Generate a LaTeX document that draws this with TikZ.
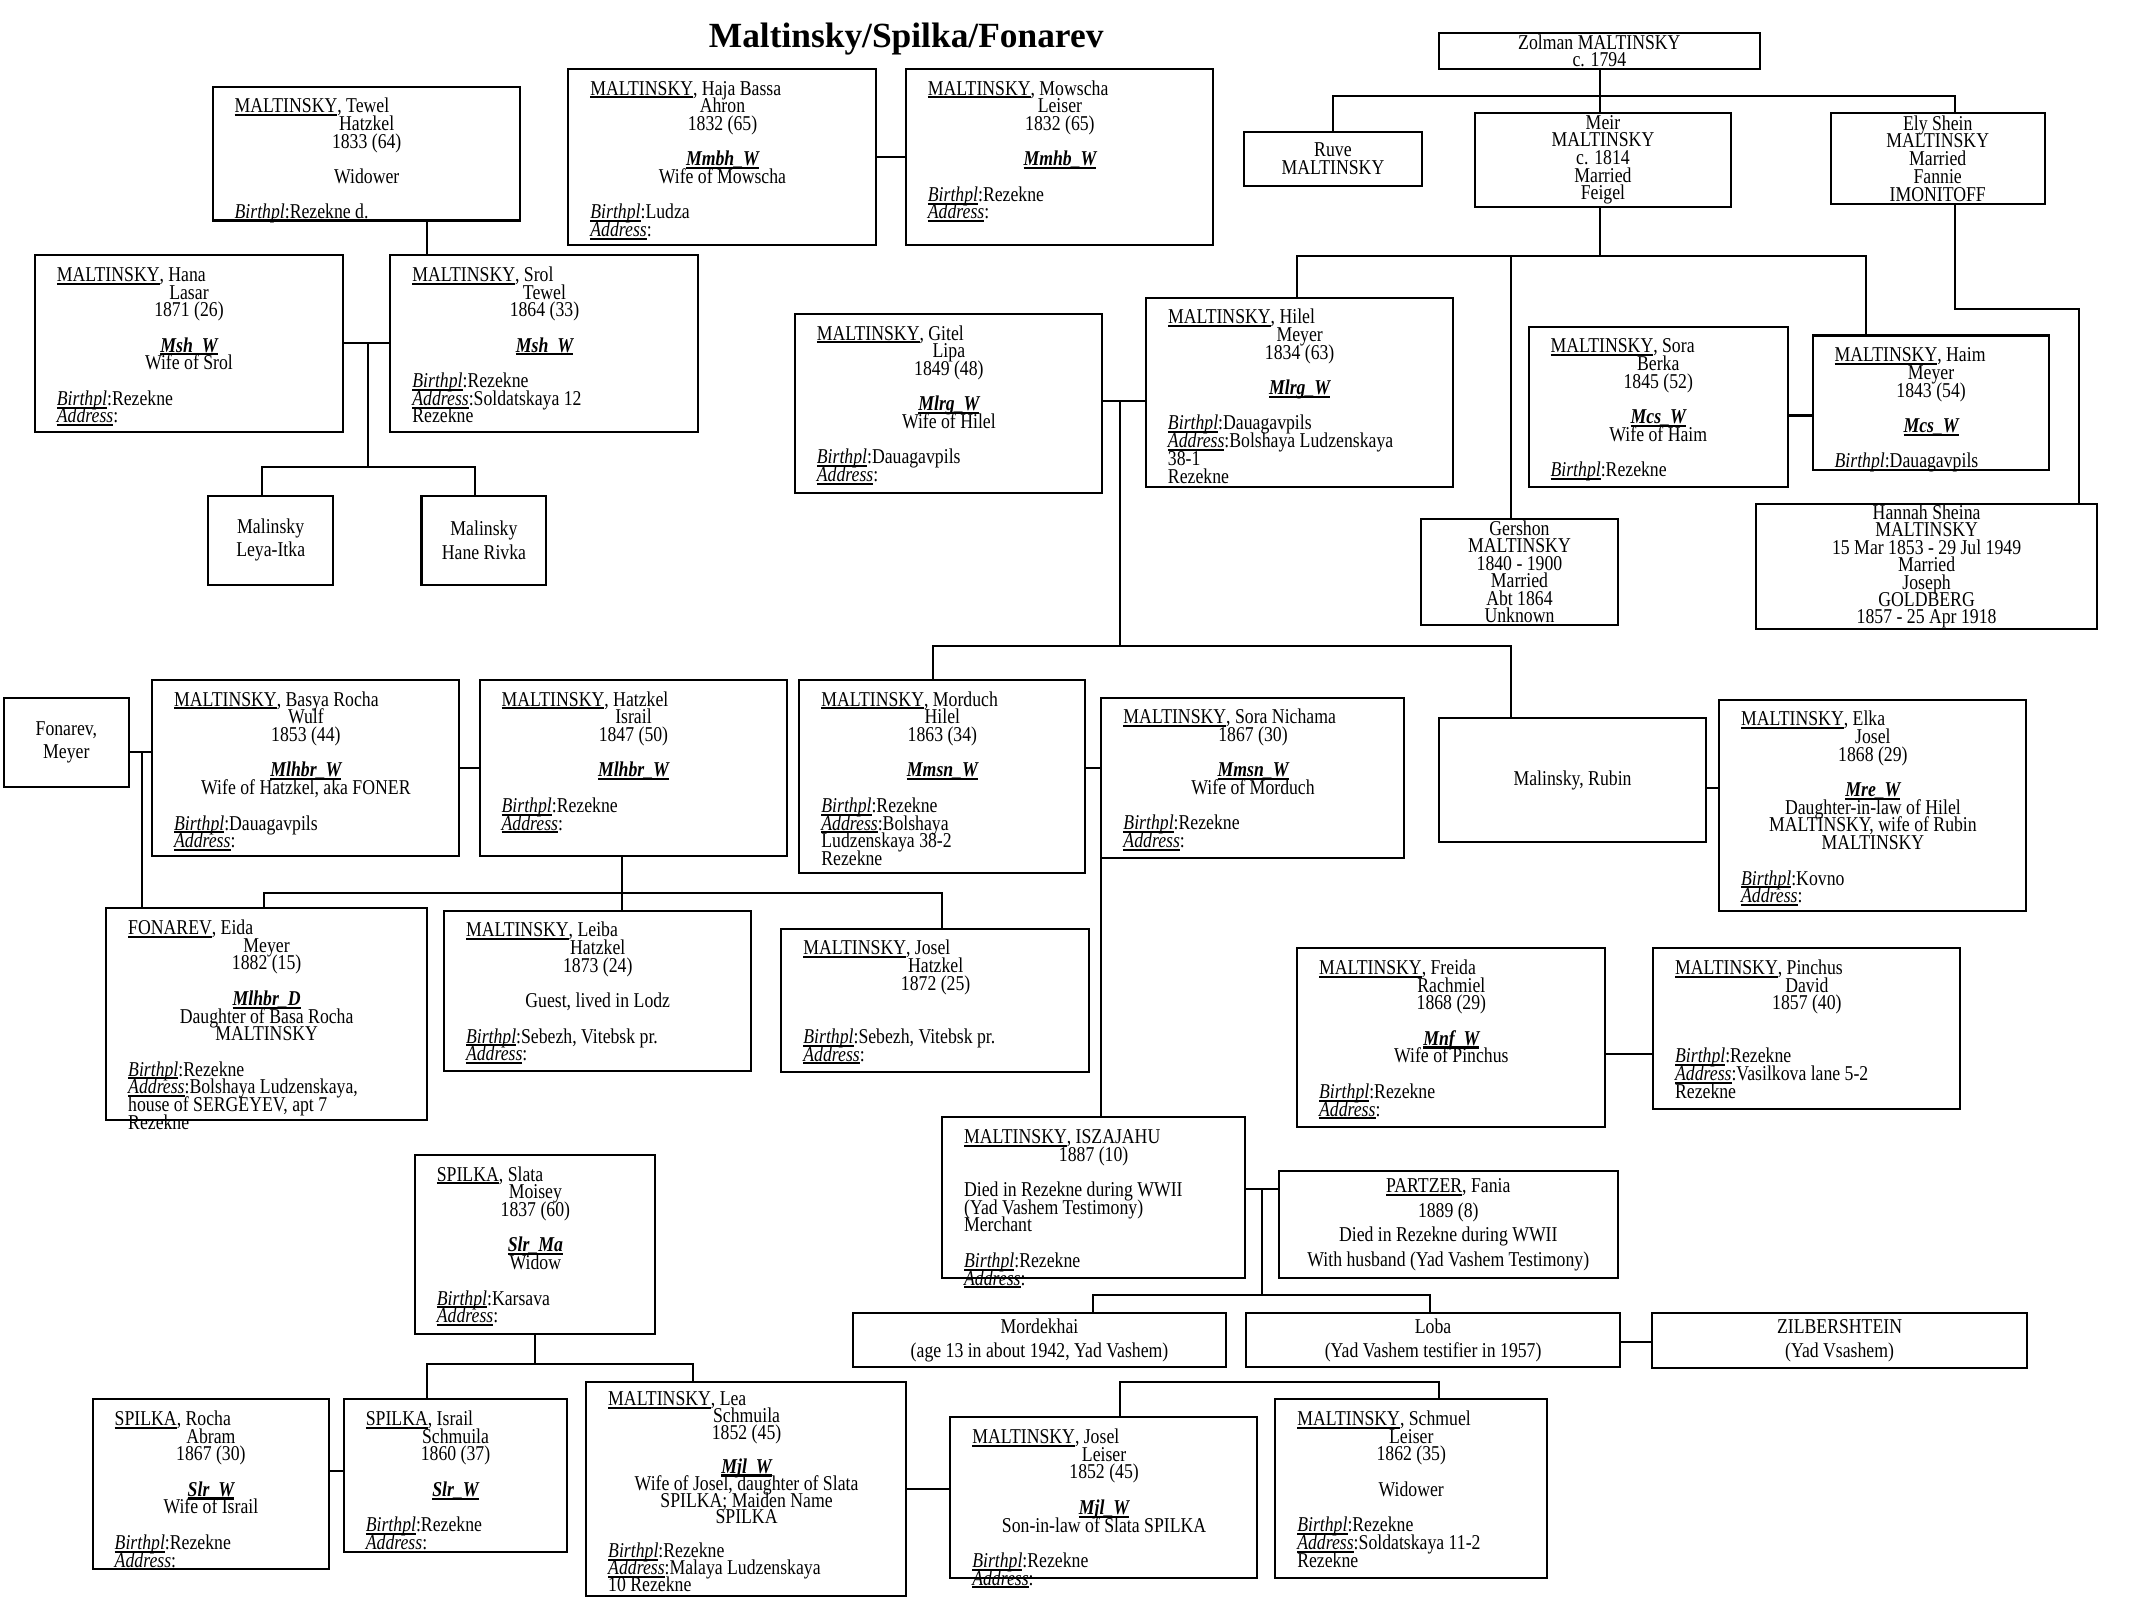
\documentclass[tikz,border=0pt]{standalone}
\usepackage{fontspec}
\setmainfont{Liberation Serif}[FakeStretch=0.84]
\newfontfamily\titlefamily{Liberation Serif}
\newcommand\bodyfont{\fontsize{15.5}{13}\selectfont\lineskiplimit=-100pt\lineskip=0pt}
\newcommand\ulx[1]{\leavevmode\setbox0=\hbox{#1}\rlap{\vrule width\wd0 height -0.9pt depth 2.4pt}\box0}
\newcommand\sur[1]{\ulx{#1}}
\newcommand\cod[1]{\ulx{\bfseries\itshape #1}}
\newcommand\bpl{\ulx{\itshape Birthpl}:}
\newcommand\adr{\ulx{\itshape Address}:}
\newcommand\LnF[1]{\hbox to\hsize{\vrule height 12.5pt depth 0pt width 0pt #1\hss}}
\newcommand\LnL[1]{\hbox to\hsize{#1\hss}}
\newcommand\LnC[1]{\hbox to\hsize{\hss #1\hss}}
\newcommand\LnB{\hbox{}}
\newcommand\LnT{\kern0pt}
\tikzset{
  box/.style={draw, line width=1.5pt, anchor=north west, outer sep=0pt, inner sep=0pt},
  conn/.style={draw, line width=1.5pt},
}
\newcommand\pbox[6]{%
  \pgfmathsetmacro\bw{#4-#2}\pgfmathsetmacro\bh{#5-#3}%
  \node[box, minimum width=\bw pt, minimum height=\bh pt] (#1) at (#2,#3) {};
  \node[anchor=north west, inner sep=0pt, font=\bodyfont] (#1t) at (#2+16,#3+6.5)
    {\vbox{\hsize=\dimexpr\bw pt-32pt\relax #6}};}
\newcommand\cbox[7]{%
  \pgfmathsetmacro\bw{#4-#2}\pgfmathsetmacro\bh{#5-#3}%
  \node[box, minimum width=\bw pt, minimum height=\bh pt] (#1) at (#2,#3) {};
  \node[align=center, inner sep=0pt, font={\fontsize{15.5}{#6}\selectfont\lineskiplimit=-100pt\lineskip=0pt}] (#1t) at (#1.center) {#7};}
\begin{document}
\lineskiplimit=-100pt\lineskip=0pt
\begin{tikzpicture}[x=1pt,y=-1pt]
\fill[white] (0,0) rectangle (1568,1173);
\useasboundingbox (0,0) rectangle (1568,1173);

\node[font={\titlefamily\bfseries\fontsize{26}{26}\selectfont}, anchor=base, inner sep=0pt] (title) at (665.8,34.8) {Maltinsky/Spilka/Fonarev};

% ---------------- person boxes ----------------
\pbox{tewel}{156.2}{63.6}{382.3}{162}{%
\LnF{\sur{MALTINSKY}, Tewel}
\LnC{Hatzkel}
\LnC{1833 (64)}
\LnB
\LnC{Widower}
\LnB
\LnL{\bpl Rezekne d.}}

\pbox{haja}{417.6}{50.7}{643.7}{180}{%
\LnF{\sur{MALTINSKY}, Haja Bassa}
\LnC{Ahron}
\LnC{1832 (65)}
\LnB
\LnC{\cod{Mmbh\_W}}\LnT
\LnC{Wife of Mowscha}
\LnB
\LnL{\bpl Ludza}
\LnL{\adr}}

\pbox{mowscha}{665.6}{50.7}{891.6}{180}{%
\LnF{\sur{MALTINSKY}, Mowscha}
\LnC{Leiser}
\LnC{1832 (65)}
\LnB
\LnC{\cod{Mmhb\_W}}
\LnB
\LnL{\bpl Rezekne}
\LnL{\adr}}

\pbox{hana}{25.6}{187.6}{251.7}{317.2}{%
\LnF{\sur{MALTINSKY}, Hana}
\LnC{Lasar}
\LnC{1871 (26)}
\LnB
\LnC{\cod{Msh\_W}}\LnT
\LnC{Wife of Srol}
\LnB
\LnL{\bpl Rezekne}
\LnL{\adr}}

\pbox{srol}{286.8}{187.6}{512.9}{317.2}{%
\LnF{\sur{MALTINSKY}, Srol}
\LnC{Tewel}
\LnC{1864 (33)}
\LnB
\LnC{\cod{Msh\_W}}
\LnB
\LnL{\bpl Rezekne}
\LnL{\adr Soldatskaya 12}
\LnL{Rezekne}}

\pbox{gitel}{584}{230.7}{810}{362}{%
\LnF{\sur{MALTINSKY}, Gitel}
\LnC{Lipa}
\LnC{1849 (48)}
\LnB
\LnC{\cod{Mlrg\_W}}\LnT
\LnC{Wife of Hilel}
\LnB
\LnL{\bpl Dauagavpils}
\LnL{\adr}}

\pbox{hilel}{842}{218.7}{1067.5}{357.8}{%
\LnF{\sur{MALTINSKY}, Hilel}
\LnC{Meyer}
\LnC{1834 (63)}
\LnB
\LnC{\cod{Mlrg\_W}}
\LnB
\LnL{\bpl Dauagavpils}
\LnL{\adr Bolshaya Ludzenskaya}
\LnL{38-1}
\LnL{Rezekne}}

\pbox{sorab}{1123.1}{240}{1313.4}{357.8}{%
\LnF{\sur{MALTINSKY}, Sora}
\LnC{Berka}
\LnC{1845 (52)}
\LnB
\LnC{\cod{Mcs\_W}}\LnT
\LnC{Wife of Haim}
\LnB
\LnL{\bpl Rezekne}}

\pbox{haim}{1331.8}{246.5}{1505.6}{345}{%
\LnF{\sur{MALTINSKY}, Haim}
\LnC{Meyer}
\LnC{1843 (54)}
\LnB
\LnC{\cod{Mcs\_W}}
\LnB
\LnL{\bpl Dauagavpils}}

\pbox{basya}{111.7}{499.7}{337.4}{629}{%
\LnF{\sur{MALTINSKY}, Basya Rocha}
\LnC{Wulf}
\LnC{1853 (44)}
\LnB
\LnC{\cod{Mlhbr\_W}}\LnT
\LnC{Wife of Hatzkel, aka FONER}
\LnB
\LnL{\bpl Dauagavpils}
\LnL{\adr}}

\pbox{hatzkel}{352.4}{499.7}{578.1}{629}{%
\LnF{\sur{MALTINSKY}, Hatzkel}
\LnC{Israil}
\LnC{1847 (50)}
\LnB
\LnC{\cod{Mlhbr\_W}}
\LnB
\LnL{\bpl Rezekne}
\LnL{\adr}}

\pbox{morduch}{587.3}{499.7}{797.2}{641.7}{%
\LnF{\sur{MALTINSKY}, Morduch}
\LnC{Hilel}
\LnC{1863 (34)}
\LnB
\LnC{\cod{Mmsn\_W}}
\LnB
\LnL{\bpl Rezekne}
\LnL{\adr Bolshaya}
\LnL{Ludzenskaya 38-2}
\LnL{Rezekne}}

\pbox{soran}{809.3}{512.6}{1031.7}{630.2}{%
\LnF{\sur{MALTINSKY}, Sora Nichama}
\LnC{1867 (30)}
\LnB
\LnC{\cod{Mmsn\_W}}\LnT
\LnC{Wife of Morduch}
\LnB
\LnL{\bpl Rezekne}
\LnL{\adr}}

\pbox{elka}{1263.1}{514.1}{1488.8}{669.6}{%
\LnF{\sur{MALTINSKY}, Elka}
\LnC{Josel}
\LnC{1868 (29)}
\LnB
\LnC{\cod{Mre\_W}}\LnT
\LnC{Daughter-in-law of Hilel}
\LnC{MALTINSKY, wife of Rubin}
\LnC{MALTINSKY}
\LnB
\LnL{\bpl Kovno}
\LnL{\adr}}

\pbox{eida}{78}{667.5}{313.4}{823.2}{%
\LnF{\sur{FONAREV}, Eida}
\LnC{Meyer}
\LnC{1882 (15)}
\LnB
\LnC{\cod{Mlhbr\_D}}\LnT
\LnC{Daughter of Basa Rocha}
\LnC{MALTINSKY}
\LnB
\LnL{\bpl Rezekne}
\LnL{\adr Bolshaya Ludzenskaya,}
\LnL{house of SERGEYEV, apt 7}
\LnL{Rezekne}}

\pbox{leiba}{326.2}{669.2}{551.8}{787.2}{%
\LnF{\sur{MALTINSKY}, Leiba}
\LnC{Hatzkel}
\LnC{1873 (24)}
\LnB
\LnC{Guest, lived in Lodz}
\LnB
\LnL{\bpl Sebezh, Vitebsk pr.}
\LnL{\adr}}

\pbox{joselh}{574.1}{682.4}{800.5}{787.8}{%
\LnF{\sur{MALTINSKY}, Josel}
\LnC{Hatzkel}
\LnC{1872 (25)}
\LnB
\LnB
\LnL{\bpl Sebezh, Vitebsk pr.}
\LnL{\adr}}

\pbox{freida}{953}{696.8}{1179.4}{828.1}{%
\LnF{\sur{MALTINSKY}, Freida}
\LnC{Rachmiel}
\LnC{1868 (29)}
\LnB
\LnC{\cod{Mnf\_W}}\LnT
\LnC{Wife of Pinchus}
\LnB
\LnL{\bpl Rezekne}
\LnL{\adr}}

\pbox{pinchus}{1214.6}{696.8}{1440.3}{814.9}{%
\LnF{\sur{MALTINSKY}, Pinchus}
\LnC{David}
\LnC{1857 (40)}
\LnB
\LnB
\LnL{\bpl Rezekne}
\LnL{\adr Vasilkova lane 5-2}
\LnL{Rezekne}}

\pbox{isza}{692.2}{821}{914.5}{939.3}{%
\LnF{\sur{MALTINSKY}, ISZAJAHU}
\LnC{1887 (10)}
\LnB
\LnL{Died in Rezekne during WWII}
\LnL{(Yad Vashem Testimony)}
\LnL{Merchant}
\LnB
\LnL{\bpl Rezekne}
\LnL{\adr}}

\pbox{slata}{304.8}{848.7}{481.5}{980}{%
\LnF{\sur{SPILKA}, Slata}
\LnC{Moisey}
\LnC{1837 (60)}
\LnB
\LnC{\cod{Slr\_Ma}}\LnT
\LnC{Widow}
\LnB
\LnL{\bpl Karsava}
\LnL{\adr}}

\pbox{rocha}{68.1}{1028.2}{241.4}{1153.1}{%
\LnF{\sur{SPILKA}, Rocha}
\LnC{Abram}
\LnC{1867 (30)}
\LnB
\LnC{\cod{Slr\_W}}\LnT
\LnC{Wife of Israil}
\LnB
\LnL{\bpl Rezekne}
\LnL{\adr}}

\pbox{israil}{252.6}{1028.2}{416.4}{1140.2}{%
\LnF{\sur{SPILKA}, Israil}
\LnC{Schmuila}
\LnC{1860 (37)}
\LnB
\LnC{\cod{Slr\_W}}
\LnB
\LnL{\bpl Rezekne}
\LnL{\adr}}

\pbox{lea}{430.7}{1015.7}{666}{1172.5}{%
\kern-2pt\baselineskip=12.4pt
\LnF{\sur{MALTINSKY}, Lea}
\LnC{Schmuila}
\LnC{1852 (45)}
\LnB
\LnC{\cod{Mjl\_W}}\LnT
\LnC{Wife of Josel, daughter of Slata}
\LnC{SPILKA; Maiden Name}
\LnC{SPILKA}
\LnB
\LnL{\bpl Rezekne}
\LnL{\adr Malaya Ludzenskaya}
\LnL{10 Rezekne}}

\pbox{josell}{698.2}{1041.5}{923.9}{1159.7}{%
\LnF{\sur{MALTINSKY}, Josel}
\LnC{Leiser}
\LnC{1852 (45)}
\LnB
\LnC{\cod{Mjl\_W}}\LnT
\LnC{Son-in-law of Slata SPILKA}
\LnB
\LnL{\bpl Rezekne}
\LnL{\adr}}

\pbox{schmuel}{937}{1028.2}{1136.5}{1159.7}{%
\LnF{\sur{MALTINSKY}, Schmuel}
\LnC{Leiser}
\LnC{1862 (35)}
\LnB
\LnC{Widower}
\LnB
\LnL{\bpl Rezekne}
\LnL{\adr Soldatskaya 11-2}
\LnL{Rezekne}}

% ---------------- simple boxes ----------------
\cbox{zolman}{1057.4}{24.3}{1292.9}{51}{12.6}{Zolman MALTINSKY\\c. 1794}
\cbox{ruve}{914}{96.9}{1044.8}{136.8}{13}{Ruve\\MALTINSKY}
\cbox{meir}{1083.7}{83.1}{1271.9}{151.8}{13}{Meir\\MALTINSKY\\c. 1814\\Married\\Feigel}
\cbox{ely}{1345.2}{83.1}{1502.3}{149.7}{13}{Ely Shein\\MALTINSKY\\Married\\Fannie\\IMONITOFF}
\cbox{gershon}{1044.4}{381}{1188.5}{459.2}{12.8}{Gershon\\MALTINSKY\\1840 - 1900\\Married\\Abt 1864\\Unknown}
\cbox{hannah}{1290.3}{370.4}{1540.9}{462.2}{12.8}{Hannah Sheina\\MALTINSKY\\15 Mar 1853 - 29 Jul 1949\\Married\\Joseph\\GOLDBERG\\1857 - 25 Apr 1918}
\cbox{leya}{152.8}{364.2}{245}{429.7}{17}{Malinsky\\Leya-Itka}
\cbox{hane}{309.7}{364.2}{401.5}{429.7}{17}{Malinsky\\Hane Rivka}
\cbox{fonarev}{3}{512.6}{94.5}{578.3}{17}{Fonarev,\\Meyer}
\cbox{rubin}{1057.4}{527.3}{1253.5}{619}{13}{Malinsky, Rubin}
\cbox{fania}{939.7}{860.2}{1188.6}{939.3}{18}{\sur{PARTZER}, Fania\\1889 (8)\\Died in Rezekne during WWII\\With husband (Yad Vashem Testimony)}
\cbox{mordekhai}{626.6}{964.6}{901}{1004.7}{17.6}{Mordekhai\\(age 13 in about 1942, Yad Vashem)}
\cbox{loba}{915.6}{964.6}{1190.4}{1004.7}{17.6}{Loba\\(Yad Vashem testifier in 1957)}
\cbox{zilb}{1214}{964.6}{1489.3}{1005}{17.6}{ZILBERSHTEIN\\(Yad Vsashem)}

% ---------------- connectors ----------------
\coordinate (kA) at (313.5,175);
\draw[conn] (kA |- tewel.south) -- (kA |- srol.north);

\coordinate (kB) at (270.6,252.3);
\coordinate (kBl) at (192.3,343.1);
\coordinate (kBr) at (349.2,343.1);
\draw[conn] (hana.east |- kB) -- (srol.west |- kB);
\draw[conn] (kB) -- (kB |- kBl);
\draw[conn] (kBl |- leya.north) -- (kBl) -- (kBr) -- (kBr |- hane.north);

\coordinate (kC) at (650,115.5);
\draw[conn] (haja.east |- kC) -- (mowscha.west |- kC);

\coordinate (kD) at (1175.5,70.5);
\coordinate (kDl) at (979.4,70.5);
\coordinate (kDr) at (1436.5,70.5);
\draw[conn] (kD |- zolman.south) -- (kD |- meir.north);
\draw[conn] (kDl |- ruve.north) -- (kDl) -- (kDr) -- (kDr |- ely.north);

\coordinate (kE) at (1175.5,188.1);
\coordinate (kEl) at (953,188.1);
\coordinate (kEm) at (1110.2,188.1);
\coordinate (kEr) at (1371.1,188.1);
\draw[conn] (kE |- meir.south) -- (kE);
\draw[conn] (kEl |- hilel.north) -- (kEl) -- (kEr) -- (kEr |- haim.north);
\draw[conn] (kEm) -- (kEm |- gershon.north);

\coordinate (kF) at (1436.5,227);
\coordinate (kFr) at (1527.9,227);
\draw[conn] (kF |- ely.south) -- (kF) -- (kFr) -- (kFr |- hannah.north);

\coordinate (kG) at (1320,305.3);
\draw[conn] (sorab.east |- kG) -- (haim.west |- kG);

\coordinate (kH) at (822.8,294.8);
\coordinate (kHb) at (822.8,474.7);
\draw[conn] (gitel.east |- kH) -- (hilel.west |- kH);
\draw[conn] (kH) -- (kHb);
\coordinate (kIl) at (685.4,474.7);
\coordinate (kIr) at (1109.9,474.7);
\draw[conn] (kIl |- morduch.north) -- (kIl) -- (kIr) -- (kIr |- rubin.north);

\coordinate (kJ) at (104.3,552.3);
\draw[conn] (fonarev.east |- kJ) -- (basya.west |- kJ);
\draw[conn] (kJ) -- (kJ |- eida.north);

\coordinate (kK) at (345,564.6);
\draw[conn] (basya.east |- kK) -- (hatzkel.west |- kK);
\coordinate (kKd) at (457,656.4);
\draw[conn] (kKd |- hatzkel.south) -- (kKd |- leiba.north);
\coordinate (kKl) at (194.2,656.4);
\coordinate (kKr) at (691.9,656.4);
\draw[conn] (kKl |- eida.north) -- (kKl) -- (kKr) -- (kKr |- joselh.north);

\coordinate (kL) at (809.3,564.6);
\draw[conn] (morduch.east |- kL) -- (kL) -- (kL |- isza.north);

\coordinate (kM) at (1258,579.3);
\draw[conn] (rubin.east |- kM) -- (elka.west |- kM);

\coordinate (kN) at (1197,774.7);
\draw[conn] (freida.east |- kN) -- (pinchus.west |- kN);

\coordinate (kO) at (927.3,873.9);
\coordinate (kOl) at (803.2,951.6);
\coordinate (kOr) at (1051,951.6);
\draw[conn] (isza.east |- kO) -- (fania.west |- kO);
\draw[conn] (kO) -- (kO |- kOl);
\draw[conn] (kOl |- mordekhai.north) -- (kOl) -- (kOr) -- (kOr |- loba.north);

\coordinate (kP) at (1200,985.9);
\draw[conn] (loba.east |- kP) -- (zilb.west |- kP);

\coordinate (kQ) at (393.2,1002.5);
\coordinate (kQl) at (313.4,1002.5);
\coordinate (kQr) at (509.1,1002.5);
\draw[conn] (kQ |- slata.south) -- (kQ);
\draw[conn] (kQl |- israil.north) -- (kQl) -- (kQr) -- (kQr |- lea.north);

\coordinate (kR) at (247,1080.9);
\draw[conn] (rocha.east |- kR) -- (israil.west |- kR);

\coordinate (kS) at (680,1094.2);
\draw[conn] (lea.east |- kS) -- (josell.west |- kS);

\coordinate (kTl) at (823,1015.3);
\coordinate (kTr) at (1057.6,1015.3);
\draw[conn] (kTl |- josell.north) -- (kTl) -- (kTr) -- (kTr |- schmuel.north);
\end{tikzpicture}
\end{document}
